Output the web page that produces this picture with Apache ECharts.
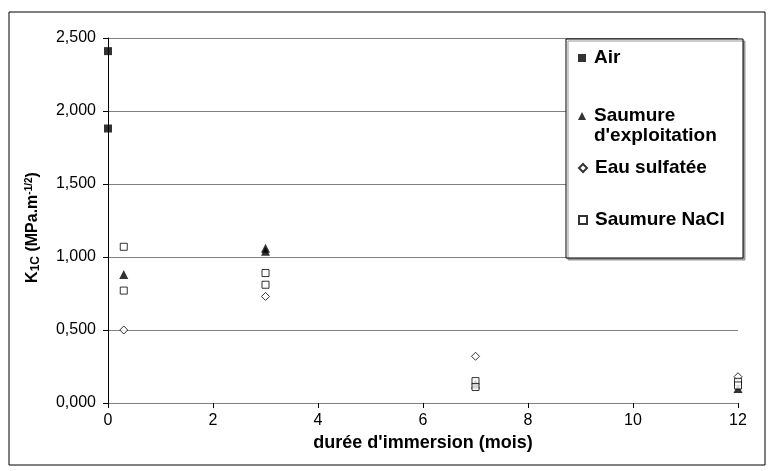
<!DOCTYPE html>
<html>
<head>
<meta charset="utf-8">
<script src="https://cdn.jsdelivr.net/npm/echarts@6/dist/echarts.min.js"></script>
<style>
    html, body { margin: 0; padding: 0; background: #fff; }
    #main { width: 774px; height: 471px; }
</style>
</head>
<body>
<div id="main"></div>
<script>
// valeurs : [durée (mois), K1C]
var air = [[0, 2.41], [0, 1.88]];
var saumureExpl = [[0.3, 0.88], [3, 1.04], [3, 1.06], [7, 0.13], [12, 0.10]];
var eauSulfatee = [[0.3, 0.50], [3, 0.73], [7, 0.32], [12, 0.18]];
var saumureNaCl = [[0.3, 1.07], [0.3, 0.77], [3, 0.89], [3, 0.81], [7, 0.15], [7, 0.11], [12, 0.145], [12, 0.12]];

var seriesNames = ['Air', "Saumure\nd'exploitation", 'Eau sulfatée', 'Saumure NaCl'];

var chart = echarts.init(document.getElementById('main'));

var font = 'Liberation Sans, Arial';

// une légende par série pour garder les espacements irréguliers
var legendTops = [48, 86, 158, 210];
var legends = seriesNames.map(function (name, i) {
    return {
        data: [name],
        left: 578,
        top: legendTops[i],
        orient: 'vertical',
        itemWidth: 8,
        itemHeight: 8,
        itemGap: 0,
        padding: 0,
        selectedMode: false,
        // symbole aligné sur la première ligne du texte
        formatter: function (n) {
            return n.indexOf('\n') >= 0 ? ' \n' + n : n;
        },
        textStyle: {
            fontFamily: font,
            fontWeight: 'bold',
            fontSize: 19,
            color: '#000',
            lineHeight: 20,
            padding: [0, 0, 0, 3]
        },
        z: 20
    };
});

option = {
    animation: false,
    backgroundColor: '#fff',
    graphic: [
        {
            type: 'rect',
            shape: {x: 9, y: 12, width: 756, height: 453},
            style: {fill: 'none', stroke: '#000', lineWidth: 1},
            z: 1
        },
        {
            type: 'rect',
            shape: {x: 566, y: 39, width: 177, height: 219},
            style: {
                fill: '#fff', stroke: '#000', lineWidth: 1,
                shadowColor: '#999', shadowOffsetX: 2, shadowOffsetY: 2
            },
            z: 10
        }
    ],
    legend: legends,
    grid: {
        left: 108,
        right: 36,
        top: 38,
        bottom: 68
    },
    xAxis: {
        type: 'value',
        min: 0,
        max: 12,
        interval: 2,
        name: "durée d'immersion (mois)",
        nameLocation: 'middle',
        nameGap: 31,
        nameTextStyle: {
            fontFamily: font,
            fontWeight: 'bold',
            fontSize: 18,
            color: '#000'
        },
        axisLine: {onZero: false, lineStyle: {color: '#808080', width: 1}},
        axisTick: {show: true, inside: false, length: 5, lineStyle: {color: '#000'}},
        axisLabel: {
            color: '#000',
            fontFamily: font,
            fontSize: 16,
            margin: 10
        },
        splitLine: {show: false}
    },
    yAxis: {
        type: 'value',
        min: 0,
        max: 2.5,
        interval: 0.5,
        name: '{k|K}{s|1C}{k| (MPa.m}{sup|-1/2}{k|)}',
        nameLocation: 'middle',
        nameGap: 66,
        nameTextStyle: {
            padding: [0, 14, 0, 0],
            rich: {
                k: {fontFamily: font, fontWeight: 'bold', fontSize: 16, color: '#000'},
                s: {fontFamily: font, fontWeight: 'bold', fontSize: 12, color: '#000', verticalAlign: 'bottom', padding: [5, 0, 0, 0]},
                sup: {fontFamily: font, fontWeight: 'bold', fontSize: 10, color: '#000', verticalAlign: 'top', padding: [0, 0, 8, 0]}
            }
        },
        axisLine: {show: true, lineStyle: {color: '#000', width: 1}},
        axisTick: {show: true, inside: false, length: 5, lineStyle: {color: '#000'}},
        axisLabel: {
            color: '#000',
            fontFamily: font,
            fontSize: 16,
            margin: 12,
            formatter: function (v) {
                return v.toFixed(3).replace('.', ',');
            }
        },
        splitLine: {show: true, lineStyle: {color: '#808080', width: 1}}
    },
    series: [
        {
            name: seriesNames[0],
            type: 'scatter',
            data: air,
            symbol: 'rect',
            symbolSize: 8,
            itemStyle: {color: '#000'},
            z: 5
        },
        {
            name: seriesNames[1],
            type: 'scatter',
            data: saumureExpl,
            symbol: 'triangle',
            symbolSize: 9,
            itemStyle: {color: '#000'},
            z: 5
        },
        {
            name: seriesNames[2],
            type: 'scatter',
            data: eauSulfatee,
            symbol: 'diamond',
            symbolSize: 8,
            itemStyle: {color: '#fff', borderColor: '#000', borderWidth: 1},
            z: 5
        },
        {
            name: seriesNames[3],
            type: 'scatter',
            data: saumureNaCl,
            symbol: 'rect',
            symbolSize: 7,
            itemStyle: {color: '#fff', borderColor: '#000', borderWidth: 1},
            z: 5
        }
    ]
};
chart.setOption(option);
</script>
</body>
</html>
